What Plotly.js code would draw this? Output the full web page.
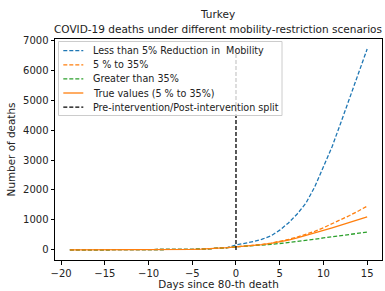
<!DOCTYPE html>
<html><head><meta charset="utf-8">
<script src="https://cdn.plot.ly/plotly-3.0.1.min.js"></script>
<style>body{margin:0;padding:0;background:#fff}</style>
</head><body>
<div id="chart" style="width:385px;height:291px"></div>
<script>
const preDays = [-19,-18,-17,-16,-15,-14,-13,-12,-11,-10,-9,-8,-7,-6,-5,-4,-3,-2,-1];
const preDeaths = [1,1,1,2,2,2,3,3,4,5,6,8,10,14,20,28,40,55,75];
const postDays = [0,1,2,3,4,5,6,7,8,9,10,11,12,13,14,15];
const lessThan5 = [165,215,280,360,470,660,900,1200,1560,2100,2750,3450,4250,5050,5850,6700];
const from5to35 = [105,125,150,185,230,285,350,430,520,620,740,870,1010,1150,1300,1460];
const greaterThan35 = [105,120,140,160,185,215,245,280,320,360,400,440,480,520,560,595];
const trueValues = [105,125,150,180,220,270,330,400,480,560,650,740,830,920,1010,1105];
const names = ["Less than 5% Reduction in\u00a0 Mobility","5 % to 35%","Greater than 35%","True values (5 % to 35%)","Pre-intervention/Post-intervention split"];
const titleLines = ["Turkey","COVID-19 deaths under different mobility-restriction scenarios"];
const splitX = [0,0];

const days = preDays.concat(postDays);
const font = {family:"DejaVu Sans", size:10, color:"#222"};
const labFont = {family:"DejaVu Sans", size:10.4, color:"#222"};
const legFont = {family:"DejaVu Sans", size:9.6, color:"#222"};
const titleFont = {family:"DejaVu Sans", size:10.5, color:"#222"};
const dash = "4px,2px";
const styles = [
  {color:"#1f77b4", width:1.3, dash:dash},
  {color:"#ff7f0e", width:1.3, dash:dash},
  {color:"#2ca02c", width:1.3, dash:dash},
  {color:"#ff7f0e", width:1.3},
  {color:"#000000", width:1.3, dash:dash}
];
const series = [preDeaths.concat(lessThan5), preDeaths.concat(from5to35), preDeaths.concat(greaterThan35), preDeaths.concat(trueValues)];
const traces = series.map((s,i)=>({x:days, y:s, name:names[i], mode:"lines", line:styles[i], hoverinfo:"skip"}));
traces.push({x:splitX, y:[0, Math.max(...lessThan5)], name:names[4], mode:"lines", line:styles[4]});

// plot area in pixels: x 55..382, y 39..260
const W = 385, H = 291, L = 55, R = 3, T = 39, B = 31;
const pw = W-L-R, ph = H-T-B;
const px = p => (p-L)/pw;
const py = p => (H-B-p)/ph;

const shapes = [{type:"rect", xref:"paper", yref:"paper", x0:px(58.5), x1:px(282), y0:py(115.5), y1:py(41.5),
  line:{color:"#cccccc", width:1}, fillcolor:"rgba(255,255,255,0.8)", layer:"above"}];
const annotations = [];
names.forEach((n,i)=>{
  const yy = 50.7 + i*14.1;
  shapes.push({type:"line", xref:"paper", yref:"paper", x0:px(63.3), x1:px(83.3), y0:py(yy), y1:py(yy), line:styles[i], layer:"above"});
  annotations.push({xref:"paper", yref:"paper", x:px(90.5), y:py(yy), xanchor:"left", yanchor:"middle", text:n, showarrow:false, font:legFont});
});
annotations.push({xref:"paper", yref:"paper", x:px(217.5), y:py(14), xanchor:"center", yanchor:"middle", text:titleLines[0], showarrow:false, font:titleFont});
annotations.push({xref:"paper", yref:"paper", x:px(217.5), y:py(29), xanchor:"center", yanchor:"middle", text:titleLines[1], showarrow:false, font:titleFont});

const axisCommon = {showline:true, mirror:true, linecolor:"#000", linewidth:1, ticks:"outside", ticklen:3.5, tickcolor:"#000", showgrid:false, zeroline:false, tickfont:font};
const layout = {
  width:W, height:H,
  margin:{l:L, r:R, t:T, b:B},
  paper_bgcolor:"#fff", plot_bgcolor:"#fff",
  font:font,
  xaxis:Object.assign({}, axisCommon, {range:[-20.7,16.7], tickvals:[-20,-15,-10,-5,0,5,10,15], title:{text:"Days since 80-th death", font:labFont, standoff:3}}),
  yaxis:Object.assign({}, axisCommon, {range:[-335,7035], tickvals:[0,1000,2000,3000,4000,5000,6000,7000], title:{text:"Number of deaths", font:labFont, standoff:5}}),
  showlegend:false,
  shapes:shapes,
  annotations:annotations
};
Plotly.newPlot("chart", traces, layout, {displayModeBar:false, staticPlot:true});
</script>
</body></html>
